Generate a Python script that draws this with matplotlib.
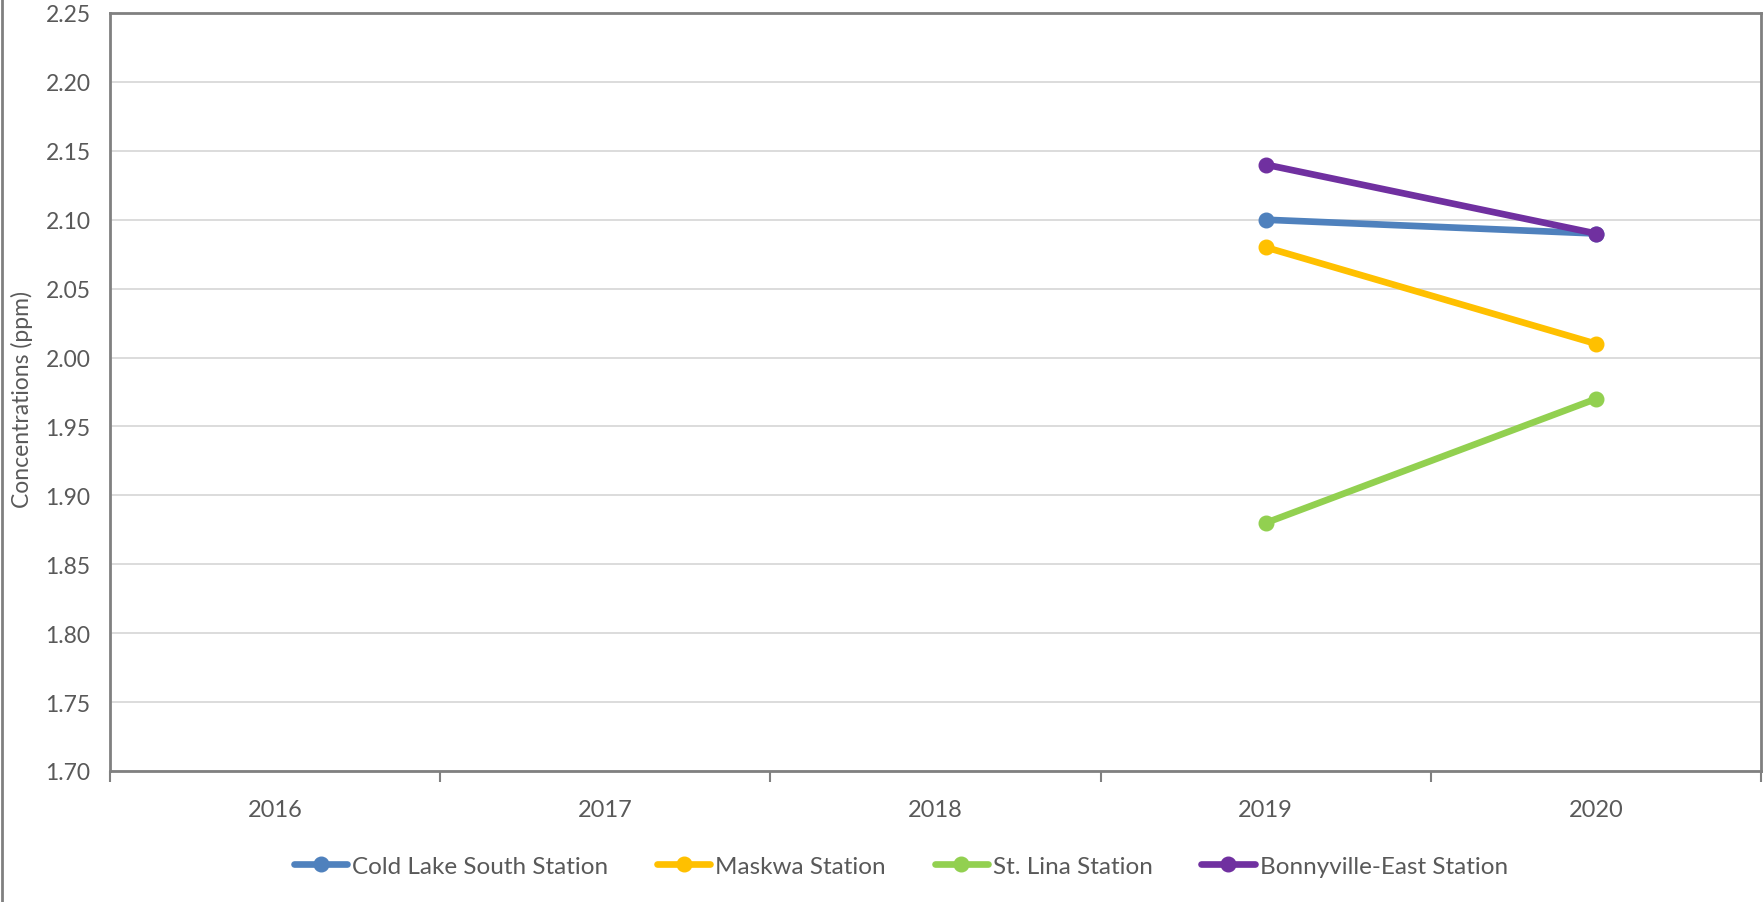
import numpy as np
import matplotlib
matplotlib.use("Agg")
import matplotlib.pyplot as plt
from matplotlib.lines import Line2D

years = ["2016", "2017", "2018", "2019", "2020"]
cold_lake = [np.nan, np.nan, np.nan, 2.10, 2.09]
maskwa = [np.nan, np.nan, np.nan, 2.08, 2.01]
st_lina = [np.nan, np.nan, np.nan, 1.88, 1.97]
bonnyville = [np.nan, np.nan, np.nan, 2.14, 2.09]
series_names = ["Cold Lake South Station", "Maskwa Station", "St. Lina Station", "Bonnyville-East Station"]
series_colors = ["#4F81BD", "#FFC000", "#92D050", "#7030A0"]
y_ticks = [1.70, 1.75, 1.80, 1.85, 1.90, 1.95, 2.00, 2.05, 2.10, 2.15, 2.20, 2.25]

plt.rcParams['font.family'] = ['Lato', 'DejaVu Sans']
txt = "#595959"

fig = plt.figure(figsize=(17.63, 9.03), dpi=100)
ax = fig.add_axes([110/1763, 1 - 772/903, (1761 - 110)/1763, (772 - 14)/903])

x = np.arange(len(years))
for vals, name, col in zip([cold_lake, maskwa, st_lina, bonnyville], series_names, series_colors):
    ax.plot(x, vals, color=col, lw=4.8, marker='o', ms=10.5, label=name, solid_capstyle='round', zorder=3)

ax.set_xlim(-0.5, len(years) - 0.5)
ax.set_ylim(1.70, 2.25)
ax.set_yticks(y_ticks)
ax.set_yticklabels([f"{v:.2f}" for v in y_ticks], fontsize=16.5, color=txt)
ax.set_xticks(x)
ax.set_xticklabels(years, fontsize=17, color=txt)
ax.set_xticks(np.arange(-0.5, len(years) + 0.5, 1), minor=True)
ax.tick_params(axis='x', which='major', length=0, pad=20)
ax.tick_params(axis='x', which='minor', length=8, width=1.5, color="#808080")
ax.tick_params(axis='y', length=0, pad=14)
ax.grid(axis='y', color="#D9D9D9", lw=1.3, zorder=0)
ax.set_axisbelow(True)
for s in ax.spines.values():
    s.set_color("#808080")
    s.set_linewidth(2)

fig.text(22/1763, 1 - 400/903, "Concentrations (ppm)", rotation=90, ha='center', va='center', fontsize=16.5, color=txt)

leg = fig.legend(loc='center', bbox_to_anchor=(0.511, 1 - 867/903), ncol=4, frameon=False,
                 fontsize=17.5, handlelength=2.2, handletextpad=0.2, columnspacing=2.0, labelcolor=txt)

fig.add_artist(Line2D([2/1763, 2/1763], [0, 1], transform=fig.transFigure, color="#808080", lw=2))

fig.savefig("out.png", dpi=100)
